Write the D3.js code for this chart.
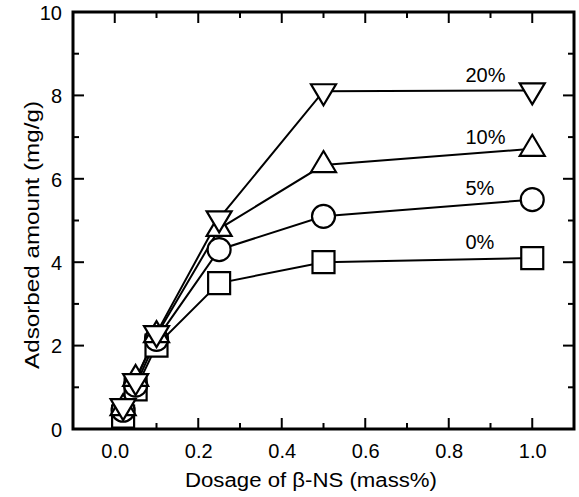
<!DOCTYPE html>
<html><head><meta charset="utf-8">
<script src="https://cdn.jsdelivr.net/npm/d3@7"></script>
<style>
html,body{margin:0;padding:0;background:#fff;}
svg text{font-family:"Liberation Sans",Arial,sans-serif;fill:#000;}
</style></head>
<body>
<svg id="chart" width="579" height="497"></svg>
<script>
const dosage = [0.02, 0.05, 0.1, 0.25, 0.5, 1.0];
const series0 = [0.3, 0.95, 2.0, 3.5, 4.0, 4.1];
const series5 = [0.45, 1.05, 2.15, 4.3, 5.1, 5.5];
const series10 = [0.5, 1.2, 2.25, 4.8, 6.33, 6.72];
const series20 = [0.55, 1.15, 2.3, 5.05, 8.1, 8.12];
const seriesLabels = ["0%", "5%", "10%", "20%"];
const xTicks = [0, 0.2, 0.4, 0.6, 0.8, 1.0];
const xMinor = [0.1, 0.3, 0.5, 0.7, 0.9];
const yTicks = [0, 2, 4, 6, 8, 10];
const yMinor = [1, 3, 5, 7, 9];

const svg = d3.select("#chart");
const L = 73, R = 574, T = 12, B = 429;
const x = d3.scaleLinear().domain([-0.1, 1.1]).range([L, R]);
const y = d3.scaleLinear().domain([0, 10]).range([B, T]);

const allSeries = [
  {label: seriesLabels[0], values: series0, sym: "square"},
  {label: seriesLabels[1], values: series5, sym: "circle"},
  {label: seriesLabels[2], values: series10, sym: "up"},
  {label: seriesLabels[3], values: series20, sym: "down"}
];

// ticks (inward on all sides)
const tg = svg.append("g").attr("stroke", "#000").attr("stroke-width", 2);
function xt(vals, len) {
  vals.forEach(v => {
    tg.append("line").attr("x1", x(v)).attr("x2", x(v)).attr("y1", B).attr("y2", B - len);
    tg.append("line").attr("x1", x(v)).attr("x2", x(v)).attr("y1", T).attr("y2", T + len);
  });
}
function yt(vals, len) {
  vals.forEach(v => {
    tg.append("line").attr("y1", y(v)).attr("y2", y(v)).attr("x1", L).attr("x2", L + len);
    tg.append("line").attr("y1", y(v)).attr("y2", y(v)).attr("x1", R).attr("x2", R - len);
  });
}
xt(xTicks, 11); xt(xMinor, 6);
yt(yTicks.filter(v => v > 0 && v < 10), 11); yt(yMinor, 6);

// frame
svg.append("rect").attr("x", L).attr("y", T).attr("width", R - L).attr("height", B - T)
  .attr("fill", "none").attr("stroke", "#000").attr("stroke-width", 3);

// tick labels
const xAxis = d3.axisBottom(x).tickValues(xTicks).tickFormat(d3.format(".1f")).tickSize(0).tickPadding(0);
const gx = svg.append("g").attr("transform", `translate(0,${B})`).call(xAxis);
gx.select(".domain").remove();
gx.selectAll("text").attr("y", 29).attr("dy", 0).style("font-size", "20px")
  .style("font-family", '"Liberation Sans",Arial,sans-serif');

const yAxis = d3.axisLeft(y).tickValues(yTicks).tickFormat(d3.format("d")).tickSize(0).tickPadding(0);
const gy = svg.append("g").attr("transform", `translate(62,0)`).call(yAxis);
gy.select(".domain").remove();
gy.selectAll("text").attr("x", 0).attr("dy", "0.36em").style("font-size", "20px")
  .style("font-family", '"Liberation Sans",Arial,sans-serif');

// axis titles
svg.append("text").attr("x", 311).attr("y", 487).attr("text-anchor", "middle")
  .style("font-size", "20px").attr("textLength", 252).attr("lengthAdjust", "spacingAndGlyphs")
  .text("Dosage of β-NS (mass%)");
svg.append("text").attr("transform", "translate(39,235) rotate(-90)").attr("text-anchor", "middle")
  .style("font-size", "20px").attr("textLength", 268).attr("lengthAdjust", "spacingAndGlyphs")
  .text("Adsorbed amount (mg/g)");

// lines
const line = d3.line().x((d, i) => x(dosage[i])).y(d => y(d));
allSeries.forEach(s => {
  svg.append("path").datum(s.values).attr("d", line)
    .attr("fill", "none").attr("stroke", "#000").attr("stroke-width", 2);
});

// markers
function symPath(sym) {
  if (sym === "square") return "M-11,-11H11V11H-11Z";
  if (sym === "circle") return d3.symbol(d3.symbolCircle, Math.PI * 11.5 * 11.5)();
  const w = 25, h = 21;
  if (sym === "up") return `M0,${-2*h/3}L${w/2},${h/3}L${-w/2},${h/3}Z`;
  return `M0,${2*h/3}L${w/2},${-h/3}L${-w/2},${-h/3}Z`;
}
allSeries.forEach(s => {
  svg.append("g").selectAll("path").data(s.values).join("path")
    .attr("transform", (d, i) => `translate(${x(dosage[i])},${y(d)})`)
    .attr("d", symPath(s.sym))
    .attr("fill", "#fff").attr("stroke", "#000").attr("stroke-width", 2.2);
});

// series labels just above the last point of each series
const labelOffsets = [-9, -5, -5, -8];
allSeries.forEach((s, k) => {
  const last = s.values[s.values.length - 1];
  svg.append("text").attr("x", x(0.84)).attr("y", y(last) + labelOffsets[k])
    .attr("text-anchor", "start").style("font-size", "20px").text(s.label);
});
</script>
</body></html>
